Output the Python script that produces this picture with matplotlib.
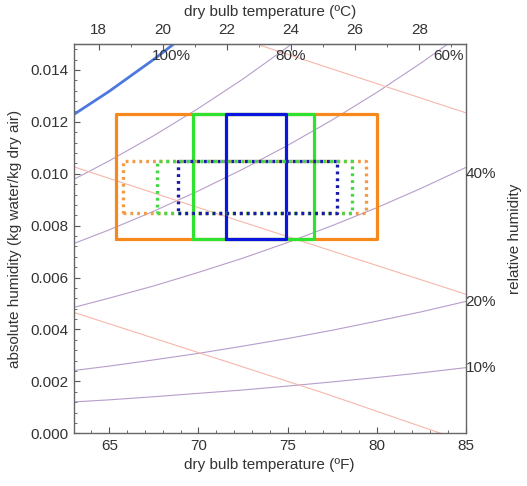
import matplotlib
matplotlib.use("Agg")
import matplotlib.pyplot as plt
from matplotlib.ticker import MultipleLocator, FormatStrFormatter

plt.rcParams["font.family"] = ["Liberation Sans", "DejaVu Sans"]
plt.rcParams["font.size"] = 11

# relative humidity curves: absolute humidity (kg/kg) vs dry bulb (F)
temps_f = [63, 65, 67.5, 70, 72.5, 75, 77.5, 80, 82.5, 85]
rh10 = [0.00121, 0.00129, 0.00141, 0.00154, 0.00167, 0.00182, 0.00198, 0.00215, 0.00233, 0.00253]
rh20 = [0.00242, 0.00259, 0.00283, 0.00308, 0.00336, 0.00365, 0.00397, 0.00432, 0.00468, 0.00508]
rh40 = [0.00485, 0.00521, 0.00568, 0.00620, 0.00675, 0.00735, 0.00800, 0.00869, 0.00944, 0.01024]
rh60 = [0.00731, 0.00784, 0.00856, 0.00934, 0.01018, 0.01109, 0.01207, 0.01313, 0.01427, 0.01549]
temps_f80 = [63, 65, 67.5, 70, 72.5, 75, 77.5]
rh80 = [0.00978, 0.01050, 0.01147, 0.01252, 0.01365, 0.01488, 0.01620]
temps_f100 = [63, 65, 67.5, 70]
rh100 = [0.01228, 0.01318, 0.01441, 0.01573]

# constant enthalpy lines
h_low_t = [63, 70, 77, 83.6]
h_low_w = [0.00466, 0.00311, 0.00156, 0.0]
h_mid_t = [63, 67, 71, 75, 79, 85]
h_mid_w = [0.01027, 0.00937, 0.00847, 0.00758, 0.00669, 0.00536]
h_high_t = [72, 79, 85]
h_high_w = [0.01528, 0.0137, 0.01235]

# comfort boxes
box_colors = ["#f7891c", "#2fe22f", "#0a16e0"]
solid_t_lo = [65.4, 69.7, 71.55]
solid_t_hi = [80.0, 76.5, 74.9]
solid_w = [0.0075, 0.0123]
dot_colors = ["#f39a45", "#45d845", "#1a1aa8"]
dotted_t_lo = [65.75, 67.65, 68.85]
dotted_t_hi = [79.4, 78.6, 77.8]
dotted_w = [0.0085, 0.0105]

# curve labels
rh_labels = ["100%", "80%", "60%"]
rh_label_t = [67.4, 74.3, 83.2]
rh_label_w = 0.01455
side_labels = ["40%", "20%", "10%"]
side_label_w = [0.0100, 0.00507, 0.00253]

purple = "#b79dcb"
salmon = "#f5b8aa"

fig = plt.figure(figsize=(5.27, 4.86), dpi=100)
ax = fig.add_axes([0.1398, 0.1084, 0.7439, 0.8011])

for w in (rh10, rh20, rh40, rh60):
    ax.plot(temps_f, w, color=purple, lw=0.8)
ax.plot(temps_f80, rh80, color=purple, lw=0.8)
ax.plot(temps_f100, rh100, color="#4d78de", lw=2.0)

for t, w in ((h_low_t, h_low_w), (h_mid_t, h_mid_w), (h_high_t, h_high_w)):
    ax.plot(t, w, color=salmon, lw=0.8)


def rect(x0, x1, y0, y1):
    return [x0, x1, x1, x0, x0], [y0, y0, y1, y1, y0]


for c, lo, hi in zip(box_colors, solid_t_lo, solid_t_hi):
    xs, ys = rect(lo, hi, solid_w[0], solid_w[1])
    ax.plot(xs, ys, color=c, lw=2.3, solid_joinstyle="round", solid_capstyle="round")

for c, lo, hi in zip(dot_colors, dotted_t_lo, dotted_t_hi):
    xs, ys = rect(lo, hi, dotted_w[0], dotted_w[1])
    ax.plot(xs, ys, color=c, lw=2.4, linestyle=(0, (0.85, 1.2)), dash_capstyle="butt")

for lab, t in zip(rh_labels, rh_label_t):
    ax.text(t, rh_label_w, lab, ha="left", va="center", color="#333333")
for lab, w in zip(side_labels, side_label_w):
    ax.text(85.0, w, lab, ha="left", va="center", color="#333333", clip_on=False)

ax.set_xlim(63, 85)
ax.set_ylim(0, 0.015)
ax.xaxis.set_major_locator(MultipleLocator(5))
ax.xaxis.set_minor_locator(MultipleLocator(1))
ax.yaxis.set_major_locator(MultipleLocator(0.002))
ax.yaxis.set_minor_locator(MultipleLocator(0.0004))
ax.yaxis.set_major_formatter(FormatStrFormatter("%.3f"))
ax.tick_params(which="both", direction="in", top=False, right=False, colors="#555555",
               labelcolor="#333333")
ax.tick_params(which="major", length=4, pad=4)
ax.tick_params(which="minor", length=2)
for s in ax.spines.values():
    s.set_color("#666666")
    s.set_linewidth(1.0)

ax.set_xlabel("dry bulb temperature (ºF)", color="#333333", labelpad=4)
ax.set_ylabel("absolute humidity (kg water/kg dry air)", color="#333333", labelpad=6)

sec = ax.secondary_xaxis("top", functions=(lambda f: (f - 32) / 1.8, lambda c: c * 1.8 + 32))
sec.set_xticks([18, 20, 22, 24, 26, 28])
sec.xaxis.set_minor_locator(MultipleLocator(1))
sec.tick_params(which="both", direction="in", colors="#555555", labelcolor="#333333")
sec.tick_params(which="major", length=4, pad=5)
sec.tick_params(which="minor", length=2)
sec.spines["top"].set_color("#666666")
sec.set_xlabel("dry bulb temperature (ºC)", color="#333333", labelpad=5)

ax.text(1.125, 0.5, "relative humidity", transform=ax.transAxes, rotation=90,
        ha="center", va="center", color="#333333")

fig.savefig("out.png", dpi=100)
